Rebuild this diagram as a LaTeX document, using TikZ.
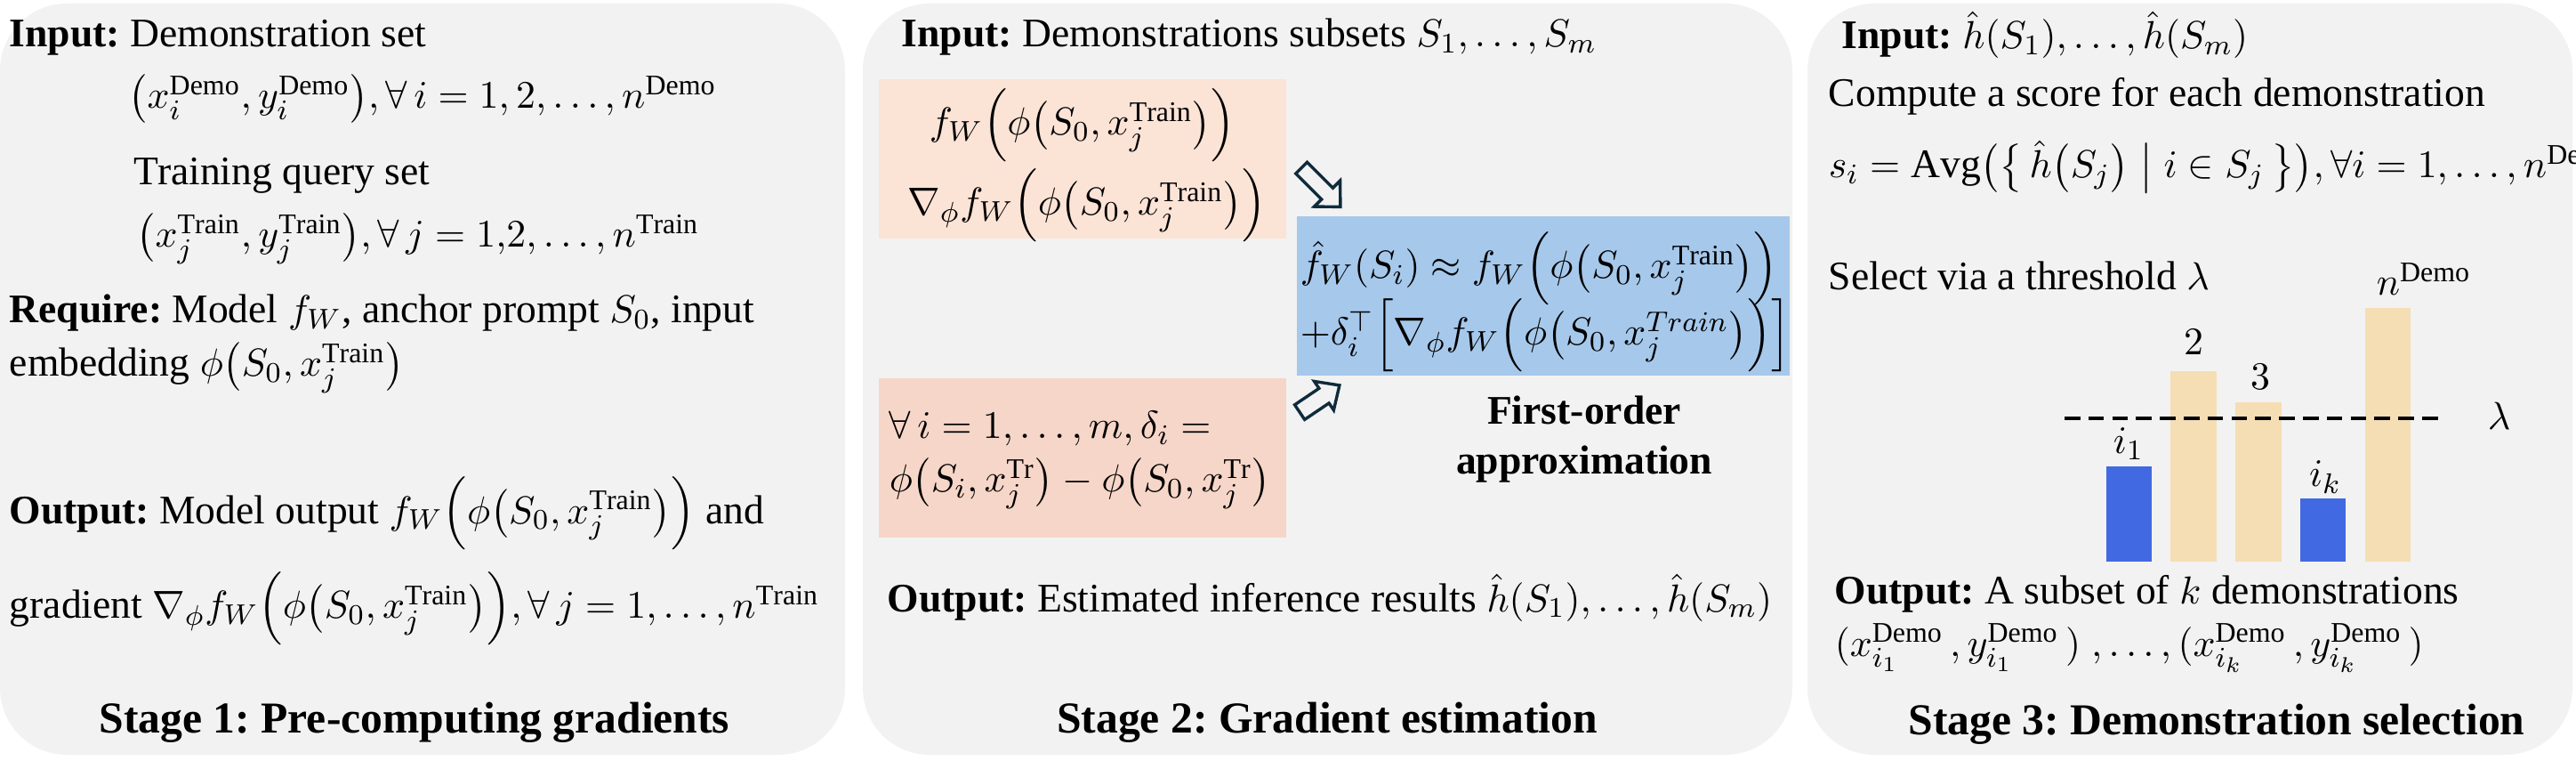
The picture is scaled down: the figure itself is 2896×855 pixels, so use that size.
\documentclass[tikz,border=0pt]{standalone}
\usepackage{amsmath,amssymb}
\usepackage{fontspec}
\setmainfont{Liberation Serif}
\definecolor{panelgray}{HTML}{F2F2F2}
\definecolor{peachA}{HTML}{FBE3D6}
\definecolor{peachB}{HTML}{F6D6C8}
\definecolor{skyblue}{HTML}{A6C8EB}
\definecolor{navyline}{HTML}{0F2B3C}
\definecolor{royal}{HTML}{4169E1}
\definecolor{wheatc}{HTML}{F5DEB3}
\newcommand{\Dm}{\mathrm{Demo}}
\newcommand{\Tn}{\mathrm{Train}}
\newcommand{\myBody}{\fontsize{11.4}{13.7}\selectfont}
\newcommand{\myTitle}{\fontsize{12.4}{15}\selectfont\bfseries}
\frenchspacing
\tikzset{
  txt/.style={anchor=base west, inner sep=0pt, font=\myBody},
  ctxt/.style={anchor=base, inner sep=0pt, font=\myBody},
  btxt/.style={anchor=base, inner sep=0pt, font=\myBody\bfseries},
  ttl/.style={anchor=base, inner sep=0pt, font=\myTitle},
  panel/.style={fill=panelgray, rounded corners=18.75pt},
  boxA/.style={fill=peachA},
  boxB/.style={fill=peachB},
  boxC/.style={fill=skyblue},
  hollowarrow/.style={draw=navyline, line width=0.85pt, line join=miter, fill=panelgray},
  selbar/.style={fill=royal},
  otherbar/.style={fill=wheatc},
  thresh/.style={line width=0.9pt, dash pattern=on 4.4pt off 2.3pt},
}
\begin{document}
\begin{tikzpicture}[x=0.25pt, y=-0.25pt]
\useasboundingbox (0,0) rectangle (2896,855);
% panels
\path[panel] (0,4) rectangle (950,848);
\path[panel] (970,4) rectangle (2015,848);
\path[panel] (2032,4) rectangle (2892,848);

% ---------------- Stage 1
\node[txt] (a1) at (10,53) {\textbf{Input:} Demonstration set};
\node[txt] (a2) at (144,122) {$\bigl(x_i^{\Dm}, y_i^{\Dm}\bigr), \forall\, i = 1, 2, \ldots, n^{\Dm}$};
\node[txt] (a3) at (150,208) {Training query set};
\node[txt] (a4) at (153,278) {$\bigl(x_j^{\Tn}, y_j^{\Tn}\bigr), \forall\, j = 1{,}2, \ldots, n^{\Tn}$};
\node[txt] (a5) at (10,363) {\textbf{Require:} Model $f_W$, anchor prompt $S_0$, input};
\node[txt] (a6) at (10,423) {embedding $\phi\bigl(S_0, x_j^{\Tn}\bigr)$};
\node[txt] (a7) at (10,588) {\textbf{Output:} Model output $f_W\Bigl(\phi\bigl(S_0, x_j^{\Tn}\bigr)\Bigr)$ and};
\node[txt] (a8) at (10,695) {gradient $\nabla_{\phi} f_W\Bigl(\phi\bigl(S_0, x_j^{\Tn}\bigr)\Bigr), \forall\, j = 1, \ldots, n^{\Tn}$};
\node[ttl] (t1) at (466,823) {Stage 1: Pre-computing gradients};

% ---------------- Stage 2
\node[txt] (b1) at (1013,53) {\textbf{Input:} Demonstrations subsets $S_1, \ldots, S_m$};
\path[boxA] (988,89) rectangle (1446,268);
\node[ctxt] (o1a) at (1217,152) {$f_W\Bigl(\phi\bigl(S_0, x_j^{\Tn}\bigr)\Bigr)$};
\node[ctxt] (o1b) at (1222,242) {$\nabla_{\phi} f_W\Bigl(\phi\bigl(S_0, x_j^{\Tn}\bigr)\Bigr)$};
\path[boxC] (1458,243) rectangle (2012,422);
\node[txt] (bla) at (1461,313) {$\hat{f}_W(S_i) \approx f_W\Bigl(\phi\bigl(S_0, x_j^{\Tn}\bigr)\Bigr)$};
\node[txt] (blb) at (1461,388) {$+\delta_i^{\top}\Bigl[\nabla_{\phi} f_W\Bigl(\phi\bigl(S_0, x_j^{Train}\bigr)\Bigr)\Bigr]$};
\path[boxB] (988,425) rectangle (1446,604);
\node[txt] (o2a) at (999,493) {$\forall\, i = 1, \ldots, m, \delta_i =$};
\node[txt] (o2b) at (999,553) {$\phi\bigl(S_i, x_j^{\mathrm{Tr}}\bigr) - \phi\bigl(S_0, x_j^{\mathrm{Tr}}\bigr)$};
\begin{scope}[shift={(1485,210.5)}, rotate=-45]
  \draw[hollowarrow] (-31,9) -- (-31,-9) -- (10,-9) -- (10,-20.5) -- (31,0) -- (10,20.5) -- (10,9) -- cycle;
\end{scope}
\begin{scope}[shift={(1483.5,448)}, rotate=34]
  \draw[hollowarrow] (-27,10) -- (-27,-10) -- (6,-10) -- (6,-19.5) -- (27,0) -- (6,19.5) -- (6,10) -- cycle;
\end{scope}
\node[btxt] (fo1) at (1781,477) {First-order};
\node[btxt] (fo2) at (1781,533) {approximation};
\node[txt] (b2) at (997,687) {\textbf{Output:} Estimated inference results $\hat{h}(S_1), \ldots, \hat{h}(S_m)$};
\node[ttl] (t2) at (1492,823) {Stage 2: Gradient estimation};

% ---------------- Stage 3
\node[txt] (c1) at (2070,55) {\textbf{Input:} $\hat{h}(S_1), \ldots, \hat{h}(S_m)$};
\node[txt] (c2) at (2055,120) {Compute a score for each demonstration};
\node[txt] (c3) at (2055,200) {$s_i = \mathrm{Avg}\bigl(\bigl\{\,\hat{h}\bigl(S_j\bigr) \bigm| i \in S_j\,\bigr\}\bigr), \forall i = 1, \ldots, n^{\Dm}$};
\node[txt] (c4) at (2055,325) {Select via a threshold $\lambda$};
\path[selbar] (2368,524) rectangle (2419,631);
\path[otherbar] (2440,417) rectangle (2492,631);
\path[otherbar] (2513,452) rectangle (2565,631);
\path[selbar] (2586,560) rectangle (2637,631);
\path[otherbar] (2659,346) rectangle (2710,631);
\node[ctxt] (l1) at (2393,510) {$i_1$};
\node[ctxt] (l2) at (2466,398) {$2$};
\node[ctxt] (l3) at (2541,438) {$3$};
\node[ctxt] (l4) at (2614,547) {$i_k$};
\node[txt] (l5) at (2671,332) {$n^{\Dm}$};
\coordinate (th1) at (2321,470);
\coordinate (th2) at (2749,470);
\draw[thresh] (th1) -- (th2);
\node[txt] (lam) at (2796,483) {$\lambda$};
\node[txt] (c5) at (2062,678) {\textbf{Output:} A subset of $k$ demonstrations};
\node[txt] (c6) at (2062,737) {$(x_{i_1}^{\Dm}\,, y_{i_1}^{\Dm}\,)\;, \ldots, (x_{i_k}^{\Dm}\,, y_{i_k}^{\Dm}\,)$};
\node[ttl] (t3) at (2492,825) {Stage 3: Demonstration selection};
\end{tikzpicture}
\end{document}
